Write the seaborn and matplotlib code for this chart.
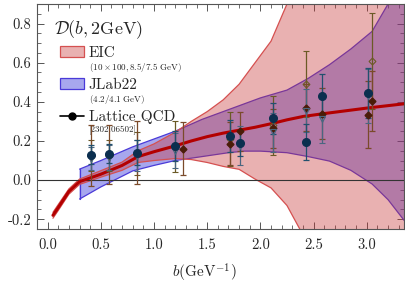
import numpy as np
import matplotlib
matplotlib.use("Agg")
import matplotlib.pyplot as plt
import seaborn as sns
from matplotlib.patches import Patch
from matplotlib.lines import Line2D

# --- EIC projection band + central value ---
eic_x = [0.05, 0.1, 0.2, 0.3, 0.5, 0.7, 0.85, 1.0, 1.2, 1.35, 1.5, 1.65, 1.8, 1.95, 2.1, 2.25, 2.4, 2.6, 3.0, 3.4]
eic_lo = [-0.195, -0.155, -0.072, -0.022, 0.015, 0.05, 0.09, 0.10, 0.11, 0.105, 0.09, 0.07, 0.055, 0.005, -0.04, -0.13, -0.28, -0.6, -1.2, -1.8]
eic_hi = [-0.165, -0.125, -0.045, 0.005, 0.048, 0.092, 0.15, 0.185, 0.245, 0.30, 0.35, 0.41, 0.49, 0.60, 0.71, 0.90, 1.1, 1.4, 2.0, 2.6]
center_y = [-0.18, -0.14, -0.058, -0.008, 0.03, 0.075, 0.12, 0.145, 0.175, 0.2, 0.222, 0.24, 0.255, 0.27, 0.288, 0.308, 0.325, 0.34, 0.368, 0.393]

# --- JLab22 band ---
jlab_x = [0.3, 0.5, 0.8, 1.0, 1.2, 1.45, 1.7, 1.85, 2.0, 2.25, 2.45, 2.65, 2.85, 3.05, 3.2, 3.4]
jlab_lo = [-0.097, -0.035, 0.047, 0.075, 0.1, 0.12, 0.14, 0.148, 0.148, 0.14, 0.12, 0.097, 0.05, -0.02, -0.1, -0.24]
jlab_hi = [0.056, 0.1, 0.17, 0.21, 0.25, 0.31, 0.36, 0.39, 0.42, 0.46, 0.52, 0.59, 0.67, 0.76, 0.9, 1.1]

# --- Lattice QCD points (2302.06502) ---
lat_a_x = [0.41, 0.58, 0.84, 1.2, 1.71, 1.81, 2.12, 2.43, 2.58, 3.01]
lat_a_y = [0.13, 0.135, 0.14, 0.175, 0.225, 0.19, 0.315, 0.195, 0.43, 0.445]
lat_a_e = [0.05, 0.05, 0.065, 0.075, 0.08, 0.065, 0.08, 0.09, 0.11, 0.13]

lat_b_x = [0.41, 0.58, 0.84, 1.27, 1.71, 1.81, 2.12, 2.43, 2.58, 3.01, 3.05]
lat_b_y = [0.125, 0.13, 0.14, 0.16, 0.185, 0.25, 0.265, 0.37, 0.34, 0.335, 0.405]
lat_b_e = [0.155, 0.15, 0.16, 0.135, 0.11, 0.1, 0.1, 0.12, 0.13, 0.17, 0.155]

lat_c_x = [0.41, 0.58, 0.84, 1.2, 1.71, 2.12, 2.43, 3.05]
lat_c_y = [0.125, 0.125, 0.135, 0.17, 0.21, 0.28, 0.49, 0.61]
lat_c_e = [0.08, 0.08, 0.11, 0.13, 0.14, 0.15, 0.17, 0.245]

lat_d_x = [0.41, 0.58, 0.84, 1.2, 1.81, 2.12, 2.43, 2.58, 3.01]
lat_d_y = [0.11, 0.115, 0.125, 0.15, 0.175, 0.245, 0.355, 0.31, 0.43]
lat_d_e = [0.06, 0.065, 0.08, 0.09, 0.1, 0.1, 0.11, 0.12, 0.14]

sns.set_style("ticks")
plt.rcParams['font.family'] = 'serif'
plt.rcParams['font.serif'] = ['cmr10', 'DejaVu Serif']
plt.rcParams['mathtext.fontset'] = 'cm'
plt.rcParams['axes.formatter.use_mathtext'] = True

fig = plt.figure(figsize=(4.05, 2.85), dpi=100)
ax = fig.add_axes([37/405, 1 - 229/285, 367/405, 225/285])

red_fill = (0.78, 0.2, 0.2, 0.38)
blue_fill = (0.24, 0.24, 0.86, 0.45)

# bands (EIC drawn over JLab so overlap looks purple)
ax.fill_between(jlab_x, jlab_lo, jlab_hi, facecolor=blue_fill, edgecolor='none', zorder=1)
ax.plot(jlab_x, jlab_lo, color='#4a3ad8', lw=0.9, zorder=1.1)
ax.plot(jlab_x, jlab_hi, color='#4a3ad8', lw=0.9, zorder=1.1)
ax.plot([jlab_x[0], jlab_x[0]], [jlab_lo[0], jlab_hi[0]], color='#4a3ad8', lw=0.9, zorder=1.1)

ax.fill_between(eic_x, eic_lo, eic_hi, facecolor=red_fill, edgecolor='none', zorder=2)
ax.plot(eic_x, eic_lo, color='#d55050', lw=0.9, zorder=2.1)
ax.plot(eic_x, eic_hi, color='#d55050', lw=0.9, zorder=2.1)

ax.axhline(0, color='#333333', lw=0.8, zorder=2.5)
sns.lineplot(x=eic_x, y=center_y, ax=ax, color='#b30000', lw=2.2, zorder=3)

# lattice data
eb = dict(capsize=2.5, elinewidth=0.9, capthick=0.9, ls='none', zorder=4)
ax.errorbar(lat_c_x, lat_c_y, yerr=lat_c_e, fmt='D', ms=3.5, mfc='none', mec='#6b5a26',
            mew=0.8, ecolor='#6b5a26', **eb)
ax.errorbar(lat_b_x, lat_b_y, yerr=lat_b_e, fmt='D', ms=3.5, mfc='#4a1c08', mec='#4a1c08',
            ecolor='#7a4a2a', **eb)
ax.errorbar(lat_d_x, lat_d_y, yerr=lat_d_e, fmt='v', ms=4, mfc='none', mec='#4a6680',
            mew=0.8, ecolor='#4a6680', **eb)
ax.errorbar(lat_a_x, lat_a_y, yerr=lat_a_e, fmt='o', ms=5.5, mfc='#0b2f4f', mec='#0b2f4f',
            ecolor='#22506e', **eb)

ax.set_xlim(-0.1, 3.35)
ax.set_ylim(-0.25, 0.9)
ax.set_xticks(np.arange(0, 3.01, 0.5))
ax.set_yticks(np.arange(-0.2, 0.81, 0.2))
ax.set_xticks(np.arange(-0.1, 3.35, 0.1), minor=True)
ax.set_yticks(np.arange(-0.25, 0.9, 0.05), minor=True)
ax.xaxis.set_major_formatter(matplotlib.ticker.FormatStrFormatter('%.1f'))
ax.yaxis.set_major_formatter(matplotlib.ticker.FormatStrFormatter('%.1f'))
ax.tick_params(which='both', direction='in', top=True, right=True, color='#555555')
ax.tick_params(which='major', length=5, width=0.7, labelsize=10.5)
ax.tick_params(which='minor', length=3, width=0.6)
ax.tick_params(axis='x', pad=7)
ax.tick_params(axis='y', pad=4)
for s in ax.spines.values():
    s.set_color('#555555')
    s.set_linewidth(0.8)

ax.set_xlabel(r'$b(\mathrm{GeV}^{-1})$', fontsize=11)
ax.xaxis.set_label_coords(0.455, -0.145)
ax.set_ylabel('')

ax.text(0.045, 0.935, r'$\mathcal{D}(b,2\mathrm{GeV})$', transform=ax.transAxes,
        fontsize=13, va='top', ha='left')

handles = [Patch(facecolor=red_fill, edgecolor='#d55050', lw=0.9),
           Patch(facecolor=blue_fill, edgecolor='#4a3ad8', lw=0.9),
           Line2D([0], [0], color='k', lw=1.2, marker='o', ms=5)]
labels = ['EIC', 'JLab22', 'Lattice QCD']
leg = ax.legend(handles, labels, loc='upper left', bbox_to_anchor=(0.045, 0.84),
                frameon=False, fontsize=11, handlelength=1.6, handleheight=0.75,
                handletextpad=0.3, labelspacing=1.18, borderaxespad=0)

sub = [r'$(10\times100,8.5/7.5\ \mathrm{GeV})$', r'$(4.2/4.1\ \mathrm{GeV})$', '[2302.06502]']
fig.canvas.draw()
inv = ax.transAxes.inverted()
for t, s in zip(leg.get_texts(), sub):
    bb = t.get_window_extent()
    x0, y0 = inv.transform((bb.x0, bb.y0))
    ax.text(x0, y0 - 0.006, s, transform=ax.transAxes, fontsize=6.5, va='top', ha='left')

fig.savefig('out.png', dpi=100)
